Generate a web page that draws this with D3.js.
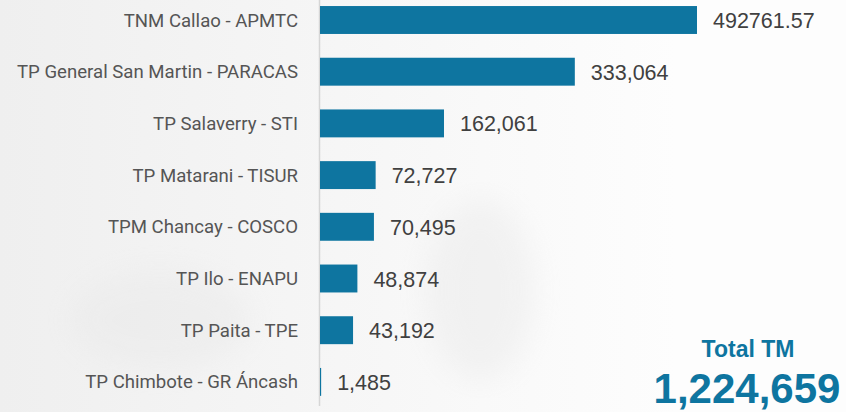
<!DOCTYPE html>
<html>
<head>
<meta charset="utf-8">
<script src="https://cdn.jsdelivr.net/npm/d3@7"></script>
<style>
  html, body { margin: 0; padding: 0; background: #fff; }
  svg { display: block; }
</style>
</head>
<body>
<svg id="chart" width="846" height="412"></svg>
<script>
// Data
const ports = [
  "TNM Callao - APMTC",
  "TP General San Martin - PARACAS",
  "TP Salaverry - STI",
  "TP Matarani - TISUR",
  "TPM Chancay - COSCO",
  "TP Ilo - ENAPU",
  "TP Paita - TPE",
  "TP Chimbote - GR Áncash"
];
const tonnes = [492761.57, 333064, 162061, 72727, 70495, 48874, 43192, 1485];
const valueLabels = ["492761.57", "333,064", "162,061", "72,727", "70,495", "48,874", "43,192", "1,485"];
const totalLabel = "Total TM";
const totalValue = 1224659;

const width = 846, height = 412;
const svg = d3.select("#chart");

// faint background
const defs = svg.append("defs");
const grad = defs.append("linearGradient").attr("id", "bg").attr("x1", 0).attr("x2", 1);
grad.append("stop").attr("offset", "0%").attr("stop-color", "#efefef");
grad.append("stop").attr("offset", "40%").attr("stop-color", "#f6f6f6");
grad.append("stop").attr("offset", "80%").attr("stop-color", "#fdfdfd");
defs.append("filter").attr("id", "blur").append("feGaussianBlur").attr("stdDeviation", 14);

svg.append("rect").attr("width", width).attr("height", height).attr("fill", "url(#bg)");
const blobs = svg.append("g").attr("filter", "url(#blur)").attr("fill", "#e8e8e8").attr("opacity", 0.45);
blobs.append("ellipse").attr("cx", 480).attr("cy", 290).attr("rx", 55).attr("ry", 90);
blobs.append("ellipse").attr("cx", 160).attr("cy", 320).attr("rx", 90).attr("ry", 50);

const x0 = 320;
const x = d3.scaleLinear()
  .domain([0, d3.max(tonnes)])
  .range([x0, 697]);

const y = d3.scaleBand()
  .domain(ports)
  .range([-5.85, 407.75])
  .paddingInner(0.46)
  .paddingOuter(0.23);

// axis line
svg.append("line")
  .attr("x1", x0 - 0.5).attr("x2", x0 - 0.5)
  .attr("y1", 0).attr("y2", 406)
  .attr("stroke", "#d6d6d6")
  .attr("stroke-width", 1.5);

const rows = svg.append("g")
  .selectAll("g")
  .data(ports)
  .join("g");

rows.append("rect")
  .attr("x", x0)
  .attr("y", d => y(d))
  .attr("height", y.bandwidth())
  .attr("width", (d, i) => Math.max(1, x(tonnes[i]) - x0))
  .attr("fill", "#0e75a0");

rows.append("text")
  .attr("x", 298)
  .attr("y", d => y(d) + y.bandwidth() / 2 + 6.5)
  .attr("text-anchor", "end")
  .attr("font-family", "Roboto, sans-serif")
  .attr("font-size", 18.6)
  .attr("fill", "#555555")
  .text(d => d);

rows.append("text")
  .attr("x", (d, i) => x(tonnes[i]) + 16)
  .attr("y", d => y(d) + y.bandwidth() / 2 + 8)
  .attr("font-family", "'Liberation Sans', Arial, sans-serif")
  .attr("font-size", 21.5)
  .attr("fill", "#404040")
  .text((d, i) => valueLabels[i]);

// total
svg.append("text")
  .attr("x", 748).attr("y", 357)
  .attr("text-anchor", "middle")
  .attr("font-family", "'Liberation Sans', Arial, sans-serif")
  .attr("font-weight", "bold")
  .attr("font-size", 23)
  .attr("fill", "#0e75a0")
  .text(totalLabel);

svg.append("text")
  .attr("x", 747).attr("y", 403)
  .attr("text-anchor", "middle")
  .attr("font-family", "'Liberation Sans', Arial, sans-serif")
  .attr("font-weight", "bold")
  .attr("font-size", 42)
  .attr("fill", "#0e75a0")
  .text(d3.format(",")(totalValue));
</script>
</body>
</html>
